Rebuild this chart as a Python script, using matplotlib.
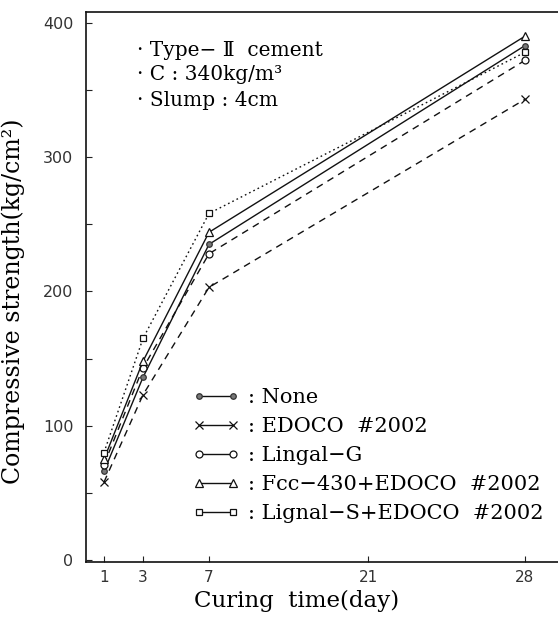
# -*- coding: utf-8 -*-
# Compressive strength vs curing time for different admixtures

import numpy as np
import matplotlib
matplotlib.use("Agg")
import matplotlib.pyplot as plt
from matplotlib.lines import Line2D


# D A T A ##############################################################################################################
days        = [1, 3, 7, 28]
s_none      = [66, 136, 235, 383]
s_edoco     = [58, 123, 203, 343]
s_lingal_g  = [71, 143, 228, 372]
s_fcc       = [75, 148, 244, 390]
s_lignal_s  = [80, 165, 258, 378]

tick_days   = [1, 3, 7, 21, 28]
tick_labels = ["1", "3", "7", "21", "28"]

labels = [": None",
          ": EDOCO  #2002",
          ": Lingal\u2212G",
          ": Fcc\u2212430+EDOCO  #2002",
          ": Lignal\u2212S+EDOCO  #2002"]

# L A Y O U T ##########################################################################################################
# the printed axis is not linear in days, so each tick day gets its own spot (axis units = pixels from left spine)
tick_pos = [18, 57, 123, 282, 439]
x_right  = 472

SERIF = ['DejaVu Serif', 'Liberation Serif']


def day_to_x(d):
  return np.interp(d, tick_days, tick_pos)


def main():
  plt.rcParams['font.family'] = SERIF

  fig = plt.figure(figsize=(5.58, 6.30), dpi=100)
  ax = fig.add_axes([86/558, 1-562/630, 1-86/558, (562-12)/630])

  series = [
    (s_none,     dict(ls='-',  marker='o', ms=4,   mfc='#777777', mec='#333333')),
    (s_edoco,    dict(ls=(0, (5, 4)), marker='x', ms=6, mfc='none', mec='#111111')),
    (s_lingal_g, dict(ls=(0, (5, 4)), marker='o', ms=5, mfc='white', mec='#111111')),
    (s_fcc,      dict(ls='-',  marker='^', ms=5.5, mfc='white', mec='#111111')),
    (s_lignal_s, dict(ls=(0, (1.2, 2.2)), marker='s', ms=5, mfc='white', mec='#111111')),
  ]

  x = day_to_x(days)
  handles = []
  for (vals, st), lab in zip(series, labels):
    ax.plot(x, vals, color='#111111', lw=1.0, mew=0.9, **st)
    hs = dict(st)
    hs['ls'] = '-'
    handles.append(Line2D([], [], color='#111111', lw=1.0, mew=0.9, **hs))

  ax.set_xlim(0, x_right)
  ax.set_ylim(-1.5, 408)

  ax.set_xticks(tick_pos)
  ax.set_xticklabels(tick_labels, fontfamily='DejaVu Sans', color='#333333', fontsize=11)
  ax.set_yticks([0, 100, 200, 300, 400])
  ax.set_yticklabels(['0', '100', '200', '300', '400'], fontfamily='DejaVu Sans', color='#333333', fontsize=11.5)
  ax.set_yticks([50, 150, 250, 350], minor=True)
  ax.tick_params(axis='both', which='both', direction='in', length=4, width=0.8, color='#222222')
  ax.tick_params(axis='x', pad=6)
  ax.tick_params(axis='y', pad=9)

  for side in ['left', 'bottom', 'top']:
    ax.spines[side].set_linewidth(1.2)
    ax.spines[side].set_color('#111111')
  ax.spines['right'].set_visible(False)

  ax.set_ylabel('Compressive strength(kg/cm\u00b2)', fontsize=17)
  ax.yaxis.set_label_coords(-0.13, 0.475)
  ax.set_xlabel('Curing  time(day)', fontsize=16.5)
  ax.xaxis.set_label_coords(0.447, -0.05)

  # notes top left
  notes = ["\u00b7 Type\u2212 \u2161  cement", "\u00b7 C : 340kg/m\u00b3", "\u00b7 Slump : 4cm"]
  for i, t in enumerate(notes):
    fig.text(137/558, 1-(50+25*i)/630, t, fontsize=14.5, va='center', ha='left')

  leg = ax.legend(handles, labels, loc='upper left', bbox_to_anchor=(193/558, 1-388/630),
                  bbox_transform=fig.transFigure, frameon=False, fontsize=15,
                  numpoints=2, handlelength=2.2, handletextpad=0.45, labelspacing=0.48,
                  borderpad=0, borderaxespad=0)

  fig.savefig('out.png', dpi=100)


if __name__ == "__main__":
    main()
